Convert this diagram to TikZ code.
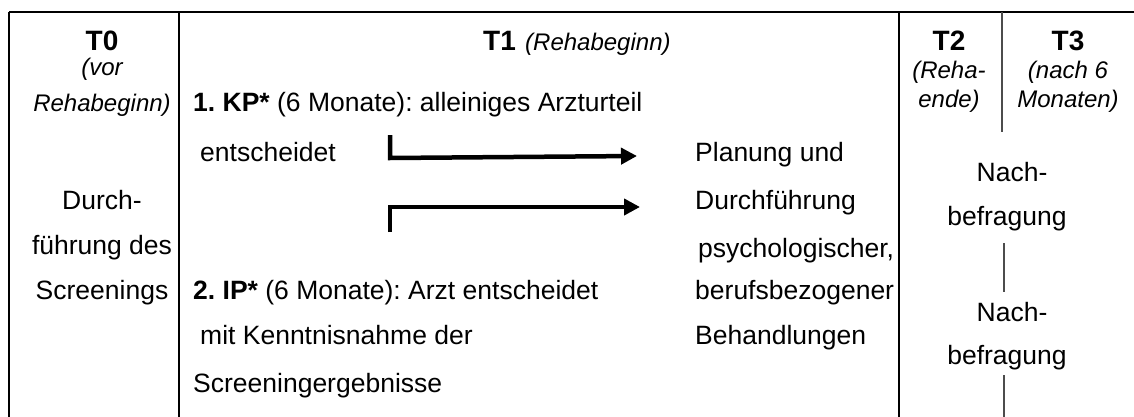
\documentclass[tikz,border=0pt]{standalone}
\usepackage{fontspec}
\setmainfont{Liberation Sans}
\usetikzlibrary{arrows.meta}
\frenchspacing
\begin{document}
\begin{tikzpicture}[x=1pt,y=-1pt,
  txt/.style={inner sep=0pt, font=\fontsize{26.5}{30}\selectfont},
  head/.style={inner sep=0pt, font=\fontsize{28}{32}\selectfont\bfseries},
  sub/.style={inner sep=0pt, font=\fontsize{24}{28}\selectfont\itshape},
  frame/.style={line width=2pt},
  thinrule/.style={line width=1.2pt, black!70},
  flow/.style={line width=4.5pt, line join=miter, -{Triangle[length=16pt,width=16pt]}}]
\useasboundingbox (0,0) rectangle (1134,417);

% table rules
\draw[frame] (9,12) -- (1134,12);
\draw[frame] (9,12) -- (9,417);
\draw[frame] (179,12) -- (179,417);
\draw[frame] (899,12) -- (899,417);
\draw[thinrule] (1002,12) -- (1002,132);
\draw[thinrule] (1004,243) -- (1004,292);
\draw[thinrule] (1004,375) -- (1004,417);

% column T0
\node[head, anchor=base] (t0) at (102,51) {T0};
\node[sub, anchor=base] (t0a) at (102,76) {(vor};
\node[sub, anchor=base] (t0b) at (102,112) {Rehabeginn)};
\node[txt, anchor=base] (s1) at (102,209) {Durch-};
\node[txt, anchor=base] (s2) at (102,254) {führung des};
\node[txt, anchor=base] (s3) at (102,299) {Screenings};

% column T1
\node[head, anchor=base west] (t1) at (483,51) {T1};
\node[sub, anchor=base west] (t1a) at (525,51) {(Rehabeginn)};
\node[txt, anchor=base west] (kp1) at (193,112) {\textbf{1. KP*} (6 Monate): alleiniges Arzturteil};
\node[txt, anchor=base west] (kp2) at (200,161) {entscheidet};
\node[txt, anchor=base west] (ip1) at (193,299) {\textbf{2. IP*} (6 Monate): Arzt entscheidet};
\node[txt, anchor=base west] (ip2) at (200,344) {mit Kenntnisnahme der};
\node[txt, anchor=base west] (ip3) at (193,392) {Screeningergebnisse};

\node[txt, anchor=base west] (p1) at (695,161) {Planung und};
\node[txt, anchor=base west] (p2) at (695,209) {Durchführung};
\node[txt, anchor=base west] (p3) at (698,257) {psychologischer,};
\node[txt, anchor=base west] (p4) at (695,299) {berufsbezogener};
\node[txt, anchor=base west] (p5) at (695,344) {Behandlungen};

% branching arrows towards the treatment block
\coordinate (a1s) at (390,135);
\coordinate (a1c) at (390,158);
\coordinate (a1e) at (637,156);
\coordinate (a2s) at (390,232);
\coordinate (a2c) at (390,207);
\coordinate (a2e) at (640,207);
\draw[flow] (a1s) -- (a1c) -- (a1e);
\draw[flow] (a2s) -- (a2c) -- (a2e);

% column T2
\node[head, anchor=base] (t2) at (949,51) {T2};
\node[sub, anchor=base] (t2a) at (949,79) {(Reha-};
\node[sub, anchor=base] (t2b) at (949,107) {ende)};

% column T3
\node[head, anchor=base] (t3) at (1068,51) {T3};
\node[sub, anchor=base] (t3a) at (1068,79) {(nach 6};
\node[sub, anchor=base] (t3b) at (1068,107) {Monaten)};

% follow-up surveys
\node[txt, anchor=base] (n1) at (1012,181) {Nach-};
\node[txt, anchor=base] (n2) at (1007,225) {befragung};
\node[txt, anchor=base] (n3) at (1012,321) {Nach-};
\node[txt, anchor=base] (n4) at (1007,364) {befragung};
\end{tikzpicture}
\end{document}
